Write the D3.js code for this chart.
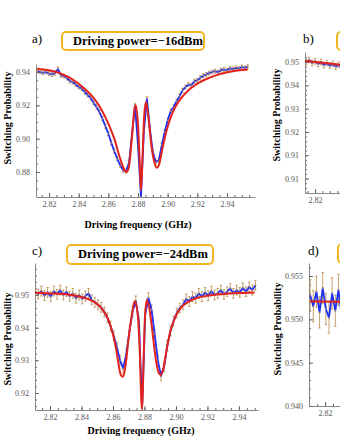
<!DOCTYPE html>
<html>
<head>
<meta charset="utf-8">
<script src="https://cdn.jsdelivr.net/npm/d3@7"></script>
<style>
  body { margin: 0; background: #fff; }
  .tick text { font-family: "Liberation Serif", serif; font-size: 8px; fill: #555; }
  .tick line { stroke: #666; }
  .domain { stroke: #888; }
</style>
</head>
<body>
<div id="chart"></div>
<script>
// ---- data ----
// a) driving power -16 dBm, sweep 2.812 .. 2.954 GHz, step 2 MHz
const sweepA = {start: 2.812, step: 0.002};
const probA = [
  0.9405, 0.9400, 0.9395, 0.9400, 0.9390, 0.9385, 0.9393, 0.9418, 0.9380, 0.9375,
  0.9365, 0.9345, 0.9340, 0.9325, 0.9310, 0.9300, 0.9280, 0.9262, 0.9245, 0.9215,
  0.9190, 0.9160, 0.9120, 0.9075, 0.9030, 0.8975, 0.8925, 0.8880, 0.8840, 0.8810,
  0.8805, 0.8860, 0.9030, 0.9200, 0.8960, 0.8650, 0.9050, 0.9240, 0.9060, 0.8920,
  0.8860, 0.8870, 0.8960, 0.9040, 0.9110, 0.9165, 0.9190, 0.9225, 0.9255, 0.9290,
  0.9310, 0.9325, 0.9320, 0.9345, 0.9350, 0.9365, 0.9378, 0.9385, 0.9393, 0.9400,
  0.9405, 0.9398, 0.9412, 0.9415, 0.9410, 0.9422, 0.9418, 0.9425, 0.9420, 0.9430,
  0.9425, 0.9432
];
const errA = 0.0012;
const fitFreqA = [2.812, 2.820, 2.828, 2.836, 2.844, 2.850, 2.855, 2.860, 2.864, 2.868,
  2.871, 2.8725, 2.874, 2.876, 2.8775, 2.8785, 2.880, 2.8812, 2.882, 2.883, 2.8842,
  2.8854, 2.887, 2.889, 2.891, 2.8925, 2.894, 2.896, 2.899, 2.903, 2.908, 2.914,
  2.920, 2.928, 2.936, 2.944, 2.954];
const fitProbA = [0.9420, 0.9410, 0.9390, 0.9355, 0.9300, 0.9245, 0.9180, 0.9090, 0.9000, 0.8880,
  0.8810, 0.8800, 0.8840, 0.9020, 0.9170, 0.9200, 0.9080, 0.8850, 0.8690, 0.8880, 0.9140,
  0.9220, 0.9130, 0.8960, 0.8860, 0.8825, 0.8840, 0.8920, 0.9040, 0.9150, 0.9230, 0.9290,
  0.9330, 0.9365, 0.9390, 0.9405, 0.9415];

// b) (cut off at the right edge)
const sweepB = {start: 2.812, step: 0.002};
const probB = [0.9506, 0.9500, 0.9509, 0.9496, 0.9503, 0.9492, 0.9500, 0.9487, 0.9496, 0.9484,
  0.9492, 0.9480, 0.9488, 0.9478];
const errB = 0.0012;
const fitFreqB = [2.812, 2.825, 2.840];
const fitProbB = [0.9505, 0.9497, 0.9486];

// c) driving power -24 dBm, sweep 2.8105 .. 2.9505 GHz
const sweepC = {start: 2.8105, step: 0.002};
const probC = [
  0.9510, 0.9503, 0.9512, 0.9498, 0.9508, 0.9495, 0.9512, 0.9502, 0.9515, 0.9500,
  0.9510, 0.9496, 0.9505, 0.9490, 0.9500, 0.9488, 0.9497, 0.9505, 0.9485, 0.9478,
  0.9470, 0.9462, 0.9448, 0.9430, 0.9405, 0.9375, 0.9340, 0.9300, 0.9275, 0.9320,
  0.9390, 0.9450, 0.9482, 0.9420, 0.9155, 0.9440, 0.9492, 0.9455, 0.9380, 0.9300,
  0.9252, 0.9280, 0.9345, 0.9390, 0.9420, 0.9445, 0.9460, 0.9470, 0.9488, 0.9480,
  0.9495, 0.9490, 0.9505, 0.9495, 0.9508, 0.9498, 0.9512, 0.9500, 0.9505, 0.9515,
  0.9502, 0.9510, 0.9520, 0.9505, 0.9515, 0.9508, 0.9522, 0.9510, 0.9525, 0.9515,
  0.9530
];
const errC = 0.0015;
const fitFreqC = [2.8105, 2.820, 2.830, 2.838, 2.844, 2.849, 2.853, 2.857, 2.860, 2.862,
  2.8635, 2.865, 2.8665, 2.868, 2.870, 2.872, 2.8738, 2.8755, 2.877, 2.878, 2.8785,
  2.8792, 2.8802, 2.8815, 2.883, 2.885, 2.887, 2.889, 2.8905, 2.892, 2.894, 2.8965,
  2.900, 2.904, 2.908, 2.914, 2.920, 2.930, 2.940, 2.950];
const fitProbC = [0.9507, 0.9505, 0.9502, 0.9496, 0.9488, 0.9476, 0.9458, 0.9425, 0.9380, 0.9335,
  0.9290, 0.9255, 0.9250, 0.9285, 0.9370, 0.9440, 0.9482, 0.9450, 0.9330, 0.9180, 0.9150,
  0.9250, 0.9420, 0.9485, 0.9462, 0.9390, 0.9310, 0.9262, 0.9255, 0.9275, 0.9330, 0.9390,
  0.9437, 0.9465, 0.9480, 0.9492, 0.9498, 0.9503, 0.9506, 0.9508];

// d) (cut off at the right edge)
const sweepD = {start: 2.8105, step: 0.002};
const probD = [0.9528, 0.9515, 0.9532, 0.9508, 0.9536, 0.9512, 0.9502, 0.9530, 0.9510, 0.9534,
  0.9505, 0.9522];
const errD = 0.0018;
const fitFreqD = [2.8105, 2.840];
const fitProbD = [0.9521, 0.9520];

// tick labels
const freqTickLabels = ['2.82', '2.84', '2.86', '2.88', '2.90', '2.92', '2.94'];
const yTickLabelsA = ['0.88', '0.90', '0.92', '0.94'];
const yTickValuesB = [0.95, 0.94, 0.93, 0.92, 0.91, 0.90];
const yTickLabelsB = ['0.95', '0.94', '0.93', '0.92', '0.91', '0.91'];
const yTickLabelsC = ['0.92', '0.93', '0.94', '0.95'];
const yTickLabelsD = ['0.940', '0.945', '0.950', '0.955'];

const titles = ['Driving power=\u221216dBm', 'Driving power=\u221224dBm'];

// ---- drawing ----
const W = 340, H = 440;
const BLUE = '#1f30f5', RED = '#e2231d', ERR = '#b98c4c', BOX = '#f0b820';
const svg = d3.select('#chart').append('svg')
  .attr('width', W).attr('height', H)
  .style('background', '#fff');
const defs = svg.append('defs');

function drawPanel(p) {
  const x = d3.scaleLinear().domain(p.xDomain).range([p.x0, p.x1]);
  const y = d3.scaleLinear().domain(p.yDomain).range([p.y1, p.y0]);
  const g = svg.append('g');
  // only the ticks that fall inside the picture
  const inView = v => x(v) < W - 10;
  const xTickIdx = freqTickLabels.map((t, i) => i).filter(i => inView(+freqTickLabels[i]));

  // minor ticks
  g.append('g').attr('transform', `translate(0,${p.y1})`)
    .call(d3.axisBottom(x).tickValues(p.xMinor.filter(v => x(v) < W)).tickSize(-2).tickFormat(''))
    .call(s => s.select('.domain').remove());
  g.append('g').attr('transform', `translate(${p.x0},0)`)
    .call(d3.axisLeft(y).tickValues(p.yMinor).tickSize(-2).tickFormat(''))
    .call(s => s.select('.domain').remove());

  // major ticks + labels
  g.append('g').attr('transform', `translate(0,${p.y1})`)
    .call(d3.axisBottom(x).tickValues(xTickIdx.map(i => +freqTickLabels[i]))
      .tickFormat((d, i) => freqTickLabels[xTickIdx[i]]).tickSize(-4).tickSizeOuter(0).tickPadding(4));
  g.append('g').attr('transform', `translate(${p.x0},0)`)
    .call(d3.axisLeft(y).tickValues(p.yTicks)
      .tickFormat((d, i) => p.yLabels[i]).tickSize(-4).tickSizeOuter(0).tickPadding(6));

  defs.append('clipPath').attr('id', 'clip' + p.id)
    .append('rect').attr('x', p.x0).attr('y', p.y0 - 10)
    .attr('width', p.x1 - p.x0 + 6).attr('height', p.y1 - p.y0 + 10);
  const plot = g.append('g').attr('clip-path', `url(#clip${p.id})`);

  const pts = p.prob.map((v, i) => ({f: p.sweep.start + i * p.sweep.step, v}));

  // error bars
  plot.selectAll('line.bar').data(pts).join('line').attr('class', 'bar')
    .attr('x1', d => x(d.f)).attr('x2', d => x(d.f))
    .attr('y1', d => y(d.v - p.err)).attr('y2', d => y(d.v + p.err))
    .attr('stroke', ERR).attr('stroke-width', 0.8);
  [-1, 1].forEach(sg => {
    plot.selectAll('line.cap' + (sg + 1)).data(pts).join('line').attr('class', 'cap' + (sg + 1))
      .attr('x1', d => x(d.f) - 1.2).attr('x2', d => x(d.f) + 1.2)
      .attr('y1', d => y(d.v + sg * p.err)).attr('y2', d => y(d.v + sg * p.err))
      .attr('stroke', ERR).attr('stroke-width', 0.8);
  });

  // measured
  plot.append('path').datum(pts)
    .attr('d', d3.line().x(d => x(d.f)).y(d => y(d.v)))
    .attr('fill', 'none').attr('stroke', BLUE).attr('stroke-width', 1.8)
    .attr('stroke-linejoin', 'round');
  plot.selectAll('circle').data(pts).join('circle')
    .attr('cx', d => x(d.f)).attr('cy', d => y(d.v)).attr('r', 0.8).attr('fill', ERR);

  // fit
  plot.append('path').datum(p.fitFreq.map((f, i) => [f, p.fitProb[i]]))
    .attr('d', d3.line().x(d => x(d[0])).y(d => y(d[1])).curve(d3.curveMonotoneX))
    .attr('fill', 'none').attr('stroke', RED).attr('stroke-width', 2);

  // axis titles
  svg.append('text')
    .attr('transform', `translate(${p.ylabX},${p.ylabY}) rotate(-90)`)
    .attr('text-anchor', 'middle')
    .style('font-family', '"Liberation Serif", serif').style('font-weight', 'bold')
    .style('font-size', '10px').text('Switching Probability');
  if (p.xlabX) {
    svg.append('text').attr('x', p.xlabX).attr('y', p.xlabY).attr('text-anchor', 'middle')
      .style('font-family', '"Liberation Serif", serif').style('font-weight', 'bold')
      .style('font-size', '10px').text('Driving frequency (GHz)');
  }

  // panel letter
  svg.append('text').attr('x', p.letterX).attr('y', p.letterY)
    .style('font-family', '"Liberation Serif", serif').style('font-size', '13px')
    .text(p.letter);

  // title box
  svg.append('rect').attr('x', p.box[0]).attr('y', p.box[1])
    .attr('width', p.box[2]).attr('height', p.box[3]).attr('rx', 4)
    .attr('fill', '#fff').attr('stroke', BOX).attr('stroke-width', 2);
  if (p.title) {
    svg.append('text').attr('x', p.box[0] + 11).attr('y', p.box[1] + 13)
      .style('font-family', '"Liberation Serif", serif').style('font-weight', 'bold')
      .style('font-size', '12.5px').text(p.title);
  }
}

drawPanel({
  id: 'a', sweep: sweepA, prob: probA, err: errA, fitFreq: fitFreqA, fitProb: fitProbA,
  xDomain: [2.8112, 2.9589], x0: 36, x1: 255,
  yDomain: [0.865, 0.9448], y0: 64, y1: 197,
  xMinor: d3.range(2.815, 2.956, 0.005), yMinor: d3.range(0.87, 0.945, 0.005),
  yTicks: yTickLabelsA.map(Number), yLabels: yTickLabelsA,
  ylabX: 10.5, ylabY: 118, xlabX: 138, xlabY: 228,
  letter: 'a)', letterX: 32, letterY: 43,
  box: [62, 32, 142, 18], title: titles[0]
});

drawPanel({
  id: 'b', sweep: sweepB, prob: probB, err: errB, fitFreq: fitFreqB, fitProb: fitProbB,
  xDomain: [2.8132, 2.9619], x0: 305, x1: 525,
  yDomain: [0.8938, 0.9543], y0: 52, y1: 193,
  xMinor: d3.range(2.815, 2.96, 0.005), yMinor: d3.range(0.894, 0.954, 0.002),
  yTicks: yTickValuesB, yLabels: yTickLabelsB,
  ylabX: 280, ylabY: 115,
  letter: 'b)', letterX: 303, letterY: 43,
  box: [337, 32, 142, 18]
});

drawPanel({
  id: 'c', sweep: sweepC, prob: probC, err: errC, fitFreq: fitFreqC, fitProb: fitProbC,
  xDomain: [2.8105, 2.9521], x0: 35, x1: 258,
  yDomain: [0.9148, 0.9598], y0: 263, y1: 410,
  xMinor: d3.range(2.815, 2.952, 0.005), yMinor: d3.range(0.916, 0.959, 0.002),
  yTicks: yTickLabelsC.map(Number), yLabels: yTickLabelsC,
  ylabX: 10.5, ylabY: 339, xlabX: 141, xlabY: 434,
  letter: 'c)', letterX: 32, letterY: 255,
  box: [67, 245, 146, 19], title: titles[1]
});

drawPanel({
  id: 'd', sweep: sweepD, prob: probD, err: errD, fitFreq: fitFreqD, fitProb: fitProbD,
  xDomain: [2.8098, 2.9514], x0: 309, x1: 532,
  yDomain: [0.940, 0.9565], y0: 263, y1: 406,
  xMinor: d3.range(2.815, 2.95, 0.005), yMinor: d3.range(0.941, 0.9565, 0.001),
  yTicks: yTickLabelsD.map(Number), yLabels: yTickLabelsD,
  ylabX: 281, ylabY: 329,
  letter: 'd)', letterX: 308, letterY: 255,
  box: [338, 244, 146, 19]
});
</script>
</body>
</html>
